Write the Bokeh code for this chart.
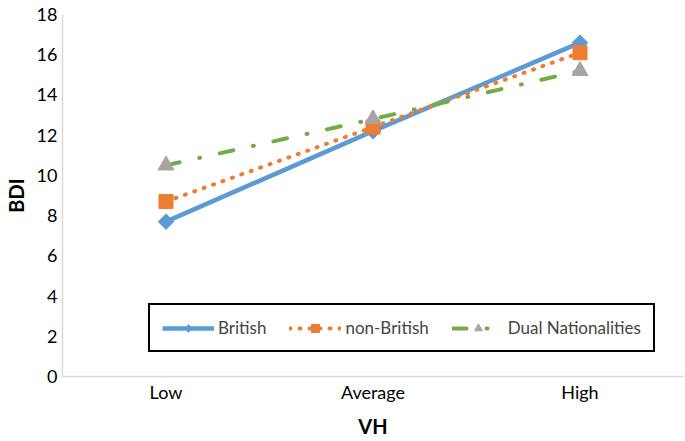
import math
from bokeh.plotting import figure
from bokeh.models import FactorRange, Range1d, Legend, LegendItem, FixedTicker
from bokeh.embed import file_html
from bokeh.resources import INLINE

categories = ["Low", "Average", "High"]
british = [7.7, 12.2, 16.6]
non_british = [8.7, 12.4, 16.1]
dual = [10.5, 12.8, 15.2]
y_ticks = [0, 2, 4, 6, 8, 10, 12, 14, 16, 18]

FONT = "Lato"

p = figure(width=685, height=441, output_backend="svg", toolbar_location=None,
           x_range=FactorRange(factors=categories, range_padding=0),
           y_range=Range1d(0, 18),
           min_border_left=62, min_border_right=2, min_border_top=14, min_border_bottom=65)
p.outline_line_color = None
p.xgrid.grid_line_color = None
p.ygrid.grid_line_color = None

r1l = p.line(categories, british, line_color="#5B9BD5", line_width=4.5, line_join="round")
r1leg = p.scatter(categories, british, marker="diamond", size=13, fill_color="#5B9BD5", line_color="#5B9BD5")
r1m = p.scatter(categories, british, marker="square", angle=math.pi / 4, size=11,
                fill_color="#5B9BD5", line_color="#5B9BD5")

r2l = p.line(categories, non_british, line_color="#ED7D31", line_width=4, line_dash="1 9", line_cap="round")
r2m = p.scatter(categories, non_british, marker="square", size=14, fill_color="#ED7D31", line_color="#ED7D31")

r3l = p.line(categories, dual, line_color="#70AD47", line_width=4, line_dash="14 20 1 20", line_cap="round")
r3m = p.scatter(categories, dual, marker="triangle", size=16, fill_color="#A5A5A5", line_color="#A5A5A5")

p.yaxis.ticker = FixedTicker(ticks=y_ticks)
for ax in (p.xaxis[0], p.yaxis[0]):
    ax.axis_line_color = "#D9D9D9"
    ax.axis_line_width = 1.5
    ax.major_tick_line_color = None
    ax.minor_tick_line_color = None
    ax.major_tick_out = 0
    ax.major_tick_in = 0
    ax.minor_tick_out = 0
    ax.minor_tick_in = 0
    ax.major_label_text_font = FONT
    ax.major_label_text_font_size = "18px"
    ax.major_label_text_color = "#000000"
    ax.axis_label_text_font = FONT
    ax.axis_label_text_font_size = "20px"
    ax.axis_label_text_font_style = "bold"
    ax.axis_label_text_color = "#000000"

p.xaxis.axis_label = "VH"
p.yaxis.axis_label = "BDI"
p.xaxis.major_label_standoff = 4
p.xaxis.axis_label_standoff = 8
p.yaxis.major_label_standoff = 5
p.yaxis.axis_label_standoff = 6

legend = Legend(items=[
    LegendItem(label="British", renderers=[r1l, r1leg]),
    LegendItem(label="non-British", renderers=[r2l, r2m]),
    LegendItem(label="Dual Nationalities", renderers=[r3l, r3m]),
], orientation="horizontal", location=(86, 24))
legend.border_line_color = "#000000"
legend.border_line_alpha = 1
legend.border_line_width = 2
legend.background_fill_alpha = 1
legend.label_text_font = FONT
legend.label_text_font_size = "17px"
legend.glyph_width = 52
legend.glyph_height = 20
legend.label_standoff = 4
legend.spacing = 23
legend.padding = 12
legend.margin = 0
p.add_layout(legend, "center")

open("out.html", "w").write(file_html(p, INLINE))
